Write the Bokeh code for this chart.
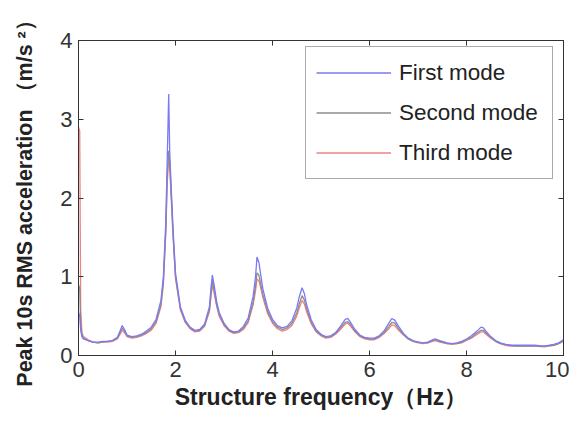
from bokeh.plotting import figure
from bokeh.models import Range1d, LinearAxis, Legend, LegendItem, FixedTicker
from bokeh.embed import file_html
from bokeh.resources import INLINE

freq = [0, 0.025, 0.045, 0.07, 0.1, 0.2, 0.3, 0.4, 0.5, 0.6, 0.7,
        0.8, 0.85, 0.9, 0.95, 1.0, 1.1, 1.2, 1.3, 1.4, 1.5,
        1.6, 1.7, 1.75, 1.8, 1.83, 1.86, 1.88, 1.9, 1.95, 2.0,
        2.1, 2.2, 2.3, 2.4, 2.5, 2.6, 2.7, 2.73, 2.76, 2.8,
        2.85, 2.9, 3.0, 3.1, 3.2, 3.3, 3.4, 3.5, 3.6, 3.65,
        3.68, 3.72, 3.8, 3.9, 4.0, 4.1, 4.2, 4.3, 4.4, 4.5,
        4.55, 4.61, 4.66, 4.7, 4.8, 4.9, 5.0, 5.1, 5.2, 5.3,
        5.4, 5.5, 5.55, 5.6, 5.7, 5.8, 5.9, 6.0, 6.1, 6.2,
        6.3, 6.4, 6.46, 6.52, 6.6, 6.7, 6.8, 6.9, 7.0, 7.1,
        7.2, 7.3, 7.35, 7.45, 7.6, 7.7, 7.8, 7.9, 8.0, 8.1,
        8.2, 8.3, 8.35, 8.4, 8.5, 8.6, 8.7, 8.8, 8.9, 9.0,
        9.2, 9.4, 9.6, 9.8, 9.9, 10.0]

first_mode = [0.55, 0.50, 0.32, 0.24, 0.21, 0.19, 0.17, 0.17, 0.18, 0.18, 0.19,
              0.23, 0.30, 0.38, 0.33, 0.26, 0.24, 0.25, 0.27, 0.31, 0.36,
              0.46, 0.70, 1.00, 1.70, 2.50, 3.32, 2.60, 2.30, 1.60, 1.05,
              0.62, 0.45, 0.36, 0.32, 0.33, 0.40, 0.62, 0.85, 1.02, 0.88,
              0.68, 0.55, 0.41, 0.33, 0.30, 0.31, 0.37, 0.48, 0.75, 1.00,
              1.25, 1.18, 0.85, 0.60, 0.46, 0.38, 0.35, 0.37, 0.44, 0.60,
              0.74, 0.86, 0.78, 0.65, 0.45, 0.33, 0.27, 0.24, 0.25, 0.29,
              0.37, 0.46, 0.47, 0.43, 0.33, 0.26, 0.23, 0.22, 0.22, 0.25,
              0.31, 0.41, 0.47, 0.45, 0.37, 0.28, 0.22, 0.19, 0.17, 0.16,
              0.17, 0.20, 0.21, 0.19, 0.16, 0.15, 0.16, 0.18, 0.21, 0.25,
              0.30, 0.36, 0.35, 0.31, 0.24, 0.19, 0.16, 0.14, 0.13, 0.13,
              0.13, 0.13, 0.12, 0.14, 0.16, 0.20]

second_mode = [0.90, 0.85, 0.40, 0.26, 0.22, 0.19, 0.17, 0.16, 0.17, 0.18, 0.19,
               0.22, 0.28, 0.35, 0.31, 0.25, 0.23, 0.24, 0.26, 0.29, 0.34,
               0.43, 0.65, 0.95, 1.60, 2.30, 2.60, 2.45, 2.20, 1.55, 1.00,
               0.60, 0.43, 0.35, 0.31, 0.32, 0.38, 0.58, 0.78, 0.95, 0.82,
               0.64, 0.52, 0.39, 0.32, 0.29, 0.30, 0.35, 0.44, 0.68, 0.88,
               1.05, 1.02, 0.78, 0.56, 0.43, 0.36, 0.33, 0.35, 0.41, 0.54,
               0.65, 0.76, 0.70, 0.60, 0.42, 0.31, 0.26, 0.23, 0.24, 0.28,
               0.35, 0.42, 0.43, 0.40, 0.31, 0.25, 0.22, 0.21, 0.21, 0.24,
               0.29, 0.37, 0.42, 0.41, 0.34, 0.27, 0.21, 0.18, 0.17, 0.16,
               0.16, 0.19, 0.20, 0.18, 0.15, 0.15, 0.15, 0.17, 0.20, 0.23,
               0.28, 0.32, 0.32, 0.29, 0.23, 0.18, 0.15, 0.14, 0.13, 0.12,
               0.12, 0.12, 0.12, 0.13, 0.15, 0.19]

third_mode = [2.90, 2.85, 0.60, 0.30, 0.24, 0.20, 0.17, 0.16, 0.17, 0.17, 0.18,
              0.21, 0.26, 0.32, 0.29, 0.24, 0.22, 0.23, 0.25, 0.28, 0.32,
              0.41, 0.62, 0.90, 1.55, 2.20, 2.50, 2.40, 2.15, 1.50, 0.98,
              0.58, 0.42, 0.34, 0.30, 0.31, 0.37, 0.56, 0.74, 0.90, 0.78,
              0.62, 0.50, 0.38, 0.31, 0.28, 0.29, 0.33, 0.42, 0.64, 0.82,
              0.97, 0.95, 0.74, 0.53, 0.41, 0.34, 0.31, 0.33, 0.38, 0.50,
              0.60, 0.70, 0.65, 0.56, 0.40, 0.30, 0.25, 0.22, 0.23, 0.27,
              0.33, 0.40, 0.41, 0.38, 0.30, 0.24, 0.21, 0.20, 0.20, 0.23,
              0.28, 0.34, 0.39, 0.38, 0.32, 0.26, 0.21, 0.18, 0.16, 0.15,
              0.16, 0.18, 0.19, 0.17, 0.15, 0.14, 0.15, 0.16, 0.19, 0.22,
              0.26, 0.30, 0.30, 0.27, 0.22, 0.18, 0.15, 0.13, 0.12, 0.12,
              0.12, 0.12, 0.11, 0.13, 0.15, 0.18]

series_names = ["First mode", "Second mode", "Third mode"]
x_ticks = [0, 2, 4, 6, 8, 10]
y_ticks = [0, 1, 2, 3, 4]

FONT = "Liberation Sans"
DARK = "#333333"

p = figure(width=569, height=420, output_backend="svg", toolbar_location=None,
           x_range=Range1d(0, 10), y_range=Range1d(0, 4),
           min_border_left=78, min_border_right=6, min_border_top=40, min_border_bottom=65)
p.grid.visible = False
p.outline_line_color = DARK
p.outline_line_width = 1
p.background_fill_color = "white"
p.border_fill_color = "white"

r3 = p.line(freq, third_mode, line_color="#f28080", line_width=1.3)
r2 = p.line(freq, second_mode, line_color="#8c8c8c", line_width=1.3)
r1 = p.line(freq, first_mode, line_color="#7a7af5", line_width=1.3)

xa = p.xaxis[0]
ya = p.yaxis[0]
xa.ticker = FixedTicker(ticks=x_ticks)
ya.ticker = FixedTicker(ticks=y_ticks)
for ax in (xa, ya):
    ax.major_tick_in = 5
    ax.major_tick_out = 0
    ax.minor_tick_line_color = None
    ax.axis_line_color = DARK
    ax.major_tick_line_color = DARK
    ax.major_label_text_font = FONT
    ax.major_label_text_color = DARK
    ax.major_label_text_font_size = "22px"
    ax.axis_label_text_font = FONT
    ax.axis_label_text_font_style = "bold"
    ax.axis_label_text_color = "#222222"

xa.axis_label_text_font_size = "23px"
ya.axis_label_text_font_size = "21.5px"
xa.axis_label = "Structure frequency（Hz）"
ya.axis_label = "Peak 10s RMS acceleration （m/s ²）"
xa.major_label_standoff = 6
xa.axis_label_standoff = 4
ya.major_label_standoff = 6
ya.axis_label_standoff = 20

top = LinearAxis(ticker=FixedTicker(ticks=x_ticks),
                 major_label_overrides={t: "" for t in x_ticks})
right = LinearAxis(ticker=FixedTicker(ticks=y_ticks),
                   major_label_overrides={t: "" for t in y_ticks})
for ax in (top, right):
    ax.major_tick_in = 5
    ax.major_tick_out = 0
    ax.minor_tick_line_color = None
    ax.axis_line_color = DARK
    ax.major_tick_line_color = DARK
    ax.major_label_text_color = None
    ax.major_label_standoff = 0
p.add_layout(top, "above")
p.add_layout(right, "right")

legend = Legend(items=[LegendItem(label=series_names[0], renderers=[r1]),
                       LegendItem(label=series_names[1], renderers=[r2]),
                       LegendItem(label=series_names[2], renderers=[r3])],
                location=(227, 176))
legend.label_text_font = FONT
legend.label_text_font_size = "22.5px"
legend.label_text_color = "#222222"
legend.glyph_width = 75
legend.glyph_height = 31
legend.label_height = 31
legend.label_width = 143
legend.label_standoff = 8
legend.spacing = 9
legend.padding = 10
legend.margin = 0
legend.border_line_color = "#555555"
legend.border_line_width = 1
legend.background_fill_color = "white"
legend.background_fill_alpha = 1
p.add_layout(legend, "center")

open("out.html", "w").write(file_html(p, INLINE))
